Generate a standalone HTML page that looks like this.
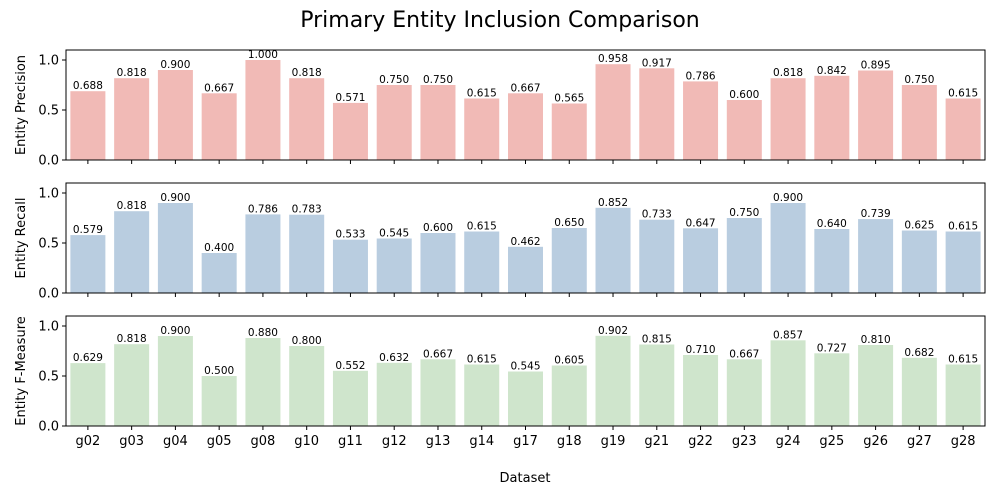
<!DOCTYPE html>
<html><head><meta charset="utf-8"><style>
body{margin:0;background:#fff;font-family:"DejaVu Sans","Liberation Sans",sans-serif}
svg text{font-family:"DejaVu Sans","Liberation Sans",sans-serif}
</style></head><body>
<svg id="chart" width="1000" height="500" xmlns="http://www.w3.org/2000/svg">
<text x="500" y="27" text-anchor="middle" font-size="22" fill="#000">Primary Entity Inclusion Comparison</text>
<text x="525" y="482" text-anchor="middle" font-size="13">Dataset</text>
</svg>
<script>
const categories=["g02","g03","g04","g05","g08","g10","g11","g12","g13","g14","g17","g18","g19","g21","g22","g23","g24","g25","g26","g27","g28"];
const precision=[0.688,0.818,0.900,0.667,1.000,0.818,0.571,0.750,0.750,0.615,0.667,0.565,0.958,0.917,0.786,0.600,0.818,0.842,0.895,0.750,0.615];
const recall=[0.579,0.818,0.900,0.400,0.786,0.783,0.533,0.545,0.600,0.615,0.462,0.650,0.852,0.733,0.647,0.750,0.900,0.640,0.739,0.625,0.615];
const fmeasure=[0.629,0.818,0.900,0.500,0.880,0.800,0.552,0.632,0.667,0.615,0.545,0.605,0.902,0.815,0.710,0.667,0.857,0.727,0.810,0.682,0.615];
const yTicks=[0.0,0.5,1.0];
const panels=[
 {name:"precision",data:precision,color:"#f1bab6",label:"Entity Precision",top:50},
 {name:"recall",data:recall,color:"#b9cde0",label:"Entity Recall",top:183},
 {name:"f-measure",data:fmeasure,color:"#cfe5cc",label:"Entity F-Measure",top:316}
];
const svg=document.getElementById('chart');
const NS="http://www.w3.org/2000/svg";
const L=66,R=985,H=110,YMAX=1.1;
const step=(R-L)/categories.length;
function mk(t,a,txt){const e=document.createElementNS(NS,t);for(const k in a)e.setAttribute(k,a[k]);if(txt!==undefined)e.textContent=txt;svg.appendChild(e);return e;}
panels.forEach((p,pi)=>{
 const y=v=>p.top+H-(v/YMAX)*H;
 const xc=i=>L+step*(i+0.5);
 p.data.forEach((v,i)=>{
  const b=mk('rect',{x:xc(i)-step*0.4,y:y(v),width:step*0.8,height:y(0)-y(v),fill:p.color});
  
  
  const t=mk('text',{x:xc(i),y:y(v)-2,'text-anchor':'middle','font-size':'10.5'},v.toFixed(3));
  
  
  mk('line',{x1:xc(i),x2:xc(i),y1:p.top+H,y2:p.top+H+4,stroke:'#000','stroke-width':1});
  if(pi===2){
   const xl=mk('text',{x:xc(i),y:p.top+H+19,'text-anchor':'middle','font-size':'13'},categories[i]);
   
   
  }
 });
 yTicks.forEach(tv=>{
  mk('line',{x1:L-4,x2:L,y1:y(tv),y2:y(tv),stroke:'#000','stroke-width':1});
  const tl=mk('text',{x:L-7,y:y(tv)+4.5,'text-anchor':'end','font-size':'13'},tv.toFixed(1));
  
  
 });
 const fr=mk('rect',{x:L,y:p.top,width:R-L,height:H,fill:'none',stroke:'#000','stroke-width':1});
 
 
 const cy=p.top+H/2;
 const yl=mk('text',{x:25,y:cy,'text-anchor':'middle','font-size':'13',transform:`rotate(-90 25 ${cy})`},p.label);
 
 
});
</script>
</body></html>
